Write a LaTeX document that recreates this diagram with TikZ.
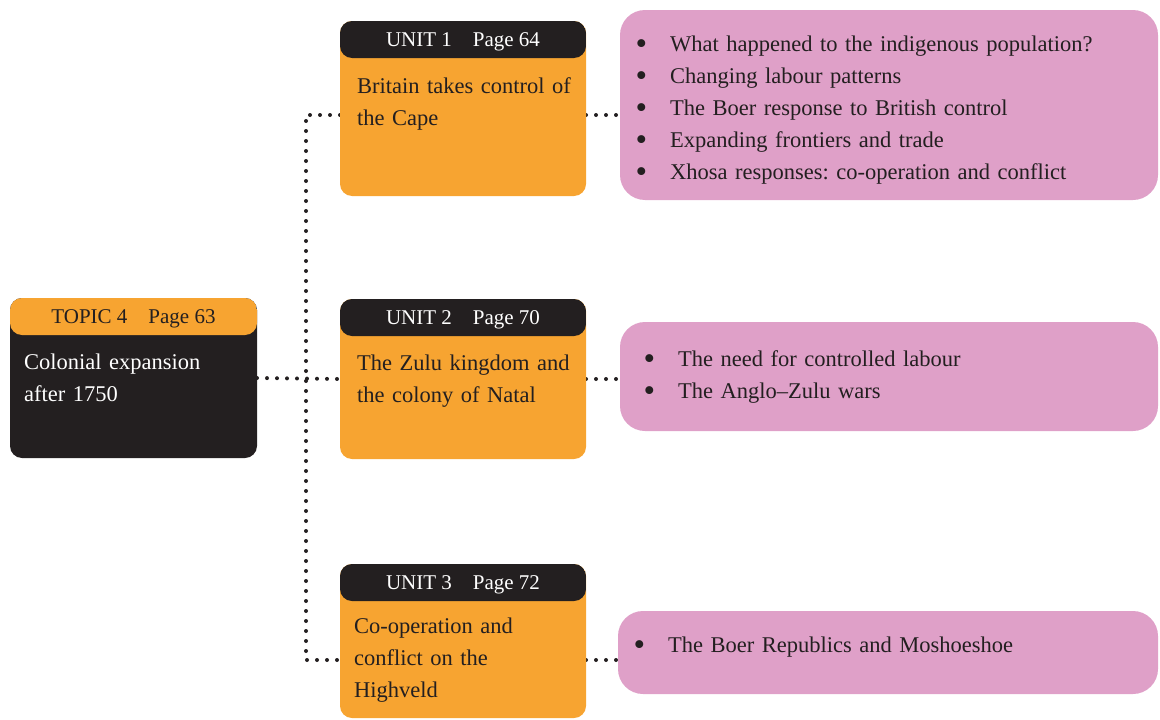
\documentclass[tikz,border=0pt]{standalone}
\usepackage{fontspec}
\setmainfont{Liberation Serif}
\usetikzlibrary{backgrounds}
\frenchspacing

\definecolor{ink}{HTML}{231F20}
\definecolor{amber}{HTML}{F7A431}
\definecolor{mauve}{HTML}{DFA0C8}

\newcommand\hdrfont{\fontsize{21}{26}\selectfont}
\newcommand\txtfont{\fontsize{22.5}{32}\selectfont}

\tikzset{
  % card: rounded box with a 37pt header band; #1 = body colour, #2 = header colour
  card/.style 2 args={
    fill=#1, rounded corners=12pt, inner sep=0pt, outer sep=0pt,
    minimum width=246pt, anchor=north west,
    path picture={\fill[#2] (path picture bounding box.north west)
      rectangle ([yshift=-37pt]path picture bounding box.north east);}},
  bubble/.style={fill=mauve, rounded corners=25pt, inner sep=0pt, outer sep=0pt,
    anchor=north west},
  hdrtext/.style={font=\hdrfont, inner sep=0pt, anchor=base},
  bodytext/.style={font=\txtfont, inner sep=0pt, anchor=north west,
    text width=240pt, align=left},
  listtext/.style={font=\txtfont, inner sep=0pt, anchor=north west,
    text width=520pt, align=left, text=ink},
  dots/.style={ink, line width=4pt, dash pattern=on 0pt off 10pt, line cap=round},
}
% list bullet, a little larger than the text bullet
\newcommand\itm{\makebox[33pt][l]{\hspace*{-1.5pt}\raisebox{-3.2pt}{\fontsize{33}{33}\selectfont\textbullet}}}

\begin{document}
\begin{tikzpicture}[x=1pt, y=-1pt]
\useasboundingbox (0,0) rectangle (1160,720);

% topic card
\node[card={ink}{amber}, minimum height=160pt, minimum width=247pt] (topic) at (10,298) {};
\node[hdrtext, text=ink] (topicH) at ([yshift=-25pt]topic.north) {TOPIC 4\quad Page 63};
\node[bodytext, text=white] (topicT) at ([xshift=14pt, yshift=-48.6pt]topic.north west)
  {\strut Colonial expansion\\after 1750};

% unit cards
\node[card={amber}{ink}, minimum height=175pt] (u1) at (340,21) {};
\node[hdrtext, text=white] (u1H) at ([yshift=-25pt]u1.north) {UNIT 1\quad Page 64};
\node[bodytext, text=ink] (u1T) at ([xshift=17pt, yshift=-49.6pt]u1.north west)
  {\strut Britain takes control of\\the Cape};

\node[card={amber}{ink}, minimum height=160pt] (u2) at (340,299) {};
\node[hdrtext, text=white] (u2H) at ([yshift=-25pt]u2.north) {UNIT 2\quad Page 70};
\node[bodytext, text=ink] (u2T) at ([xshift=17pt, yshift=-48.6pt]u2.north west)
  {\strut The Zulu kingdom and\\the colony of Natal};

\node[card={amber}{ink}, minimum height=154pt] (u3) at (340,564) {};
\node[hdrtext, text=white] (u3H) at ([yshift=-25pt]u3.north) {UNIT 3\quad Page 72};
\node[bodytext, text=ink] (u3T) at ([xshift=14pt, yshift=-46.6pt]u3.north west)
  {\strut Co-operation and\\conflict on the\\Highveld};

% topic lists
\node[bubble, minimum width=538pt, minimum height=190pt] (p1) at (620,10) {};
\node[listtext] (p1T) at (637,28.6)
  {\strut\itm What happened to the indigenous population?\\
   \itm Changing labour patterns\\
   \itm The Boer response to British control\\
   \itm Expanding frontiers and trade\\
   \itm Xhosa responses: co-operation and conflict};

\node[bubble, minimum width=538pt, minimum height=109pt] (p2) at (620,322) {};
\node[listtext] (p2T) at (645,343.6)
  {\strut\itm The need for controlled labour\\
   \itm The Anglo--Zulu wars};

\node[bubble, minimum width=540pt, minimum height=83pt] (p3) at (618,611) {};
\node[listtext] (p3T) at (635,629.6)
  {\strut\itm The Boer Republics and Moshoeshoe};

% dotted connectors
\coordinate (j1) at (306,115);
\coordinate (j3) at (306,660);
\begin{pgfonlayer}{background}
  \draw[dots] (topic.east) -- (u2.west);
  \draw[dots] (u1.west |- j1) -- (j1) -- (j3) -- (u3.west |- j3);
  \draw[dots] (u1.east |- j1) -- (p1.west |- j1);
  \draw[dots] (u2.east) -- (p2.west |- u2.east);
  \draw[dots] (u3.east |- j3) -- (p3.west |- j3);
\end{pgfonlayer}
\end{tikzpicture}
\end{document}
